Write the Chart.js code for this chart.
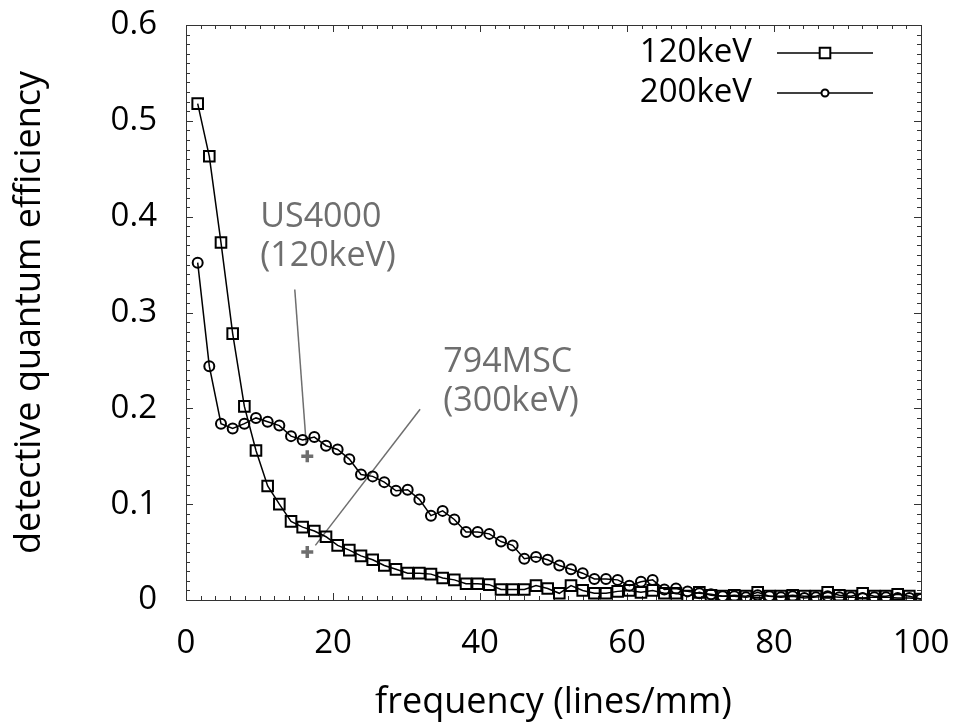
<!DOCTYPE html>
<html>
<head>
<meta charset="utf-8">
<script src="https://cdn.jsdelivr.net/npm/chart.js@4.4.1/dist/chart.umd.min.js"></script>
<style>
  html, body { margin: 0; padding: 0; background: #fff; }
  canvas { display: block; }
</style>
</head>
<body>
<canvas id="dqe-chart" width="953" height="725"></canvas>
<script>
// spatial frequency (lines/mm) of each sample
const freq = [1.59, 3.17, 4.76, 6.35, 7.94, 9.52, 11.11, 12.70, 14.29, 15.87,
  17.46, 19.05, 20.63, 22.22, 23.81, 25.40, 26.98, 28.57, 30.16, 31.75,
  33.33, 34.92, 36.51, 38.10, 39.68, 41.27, 42.86, 44.44, 46.03, 47.62,
  49.21, 50.79, 52.38, 53.97, 55.56, 57.14, 58.73, 60.32, 61.90, 63.49,
  65.08, 66.67, 68.25, 69.84, 71.43, 73.02, 74.60, 76.19, 77.78, 79.37,
  80.95, 82.54, 84.13, 85.71, 87.30, 88.89, 90.48, 92.06, 93.65, 95.24,
  96.83, 98.41, 100];

const dqe120 = [0.518, 0.463, 0.373, 0.278, 0.202, 0.156, 0.119, 0.100, 0.082, 0.076,
  0.072, 0.066, 0.057, 0.052, 0.046, 0.042, 0.036, 0.032, 0.028, 0.028,
  0.027, 0.023, 0.021, 0.017, 0.017, 0.016, 0.011, 0.011, 0.011, 0.015,
  0.012, 0.007, 0.015, 0.010, 0.007, 0.007, 0.009, 0.010, 0.008, 0.010,
  0.007, 0.007, 0.004, 0.008, 0.005, 0.004, 0.005, 0.004, 0.008, 0.004,
  0.004, 0.005, 0.004, 0.004, 0.008, 0.005, 0.004, 0.007, 0.004, 0.004,
  0.006, 0.004, 0.001];

const dqe200 = [0.352, 0.244, 0.184, 0.179, 0.184, 0.190, 0.186, 0.182, 0.171, 0.167,
  0.170, 0.161, 0.157, 0.147, 0.131, 0.129, 0.123, 0.114, 0.115, 0.105,
  0.088, 0.093, 0.084, 0.071, 0.071, 0.069, 0.061, 0.057, 0.043, 0.045,
  0.042, 0.036, 0.032, 0.028, 0.022, 0.022, 0.021, 0.015, 0.019, 0.021,
  0.011, 0.012, 0.009, 0.007, 0.006, 0.004, 0.004, 0.003, 0.005, 0.004,
  0.003, 0.004, 0.002, 0.003, 0.004, 0.003, 0.003, 0.002, 0.003, 0.003,
  0.002, 0.002, 0.001];

const seriesNames = ['120keV', '200keV'];

// single reference measurements of other cameras
const refNames = [['US4000', '(120keV)'], ['794MSC', '(300keV)']];
const refFreq = [16.5, 16.5];
const refDqe = [0.15, 0.05];

const FONT = "'Open Sans', 'Noto Sans', sans-serif";
const GREY = '#6e6e6e';

// where the labels and their pointer lines sit, in data units
const notes = [
  {text: {x: 10.1, y: 0.389}, from: {x: 14.8, y: 0.324}, to: {x: 16.35, y: 0.163}},
  {text: {x: 35.0, y: 0.238}, from: {x: 31.85, y: 0.199}, to: {x: 17.6, y: 0.057}}
];

const pts = ys => freq.map((f, i) => ({x: f, y: ys[i]}));

const framePlugin = {
  id: 'frame',
  beforeDatasetsDraw(chart) {
    const {ctx, chartArea: a, scales: {x, y}} = chart;
    ctx.save();
    ctx.strokeStyle = '#333';
    ctx.lineWidth = 1;
    ctx.beginPath();
    for (let v = 0; v <= 100; v += 2) {
      const px = Math.round(x.getPixelForValue(v)) + 0.5;
      const len = v % 20 === 0 ? 7 : 4;
      ctx.moveTo(px, a.bottom); ctx.lineTo(px, a.bottom - len);
      ctx.moveTo(px, a.top); ctx.lineTo(px, a.top + len);
    }
    for (let k = 0; k <= 60; k++) {
      const py = Math.round(y.getPixelForValue(k / 100)) + 0.5;
      const len = k % 10 === 0 ? 7 : 4;
      ctx.moveTo(a.left, py); ctx.lineTo(a.left + len, py);
      ctx.moveTo(a.right, py); ctx.lineTo(a.right - len, py);
    }
    ctx.stroke();
    ctx.strokeRect(Math.round(a.left) + 0.5, Math.round(a.top) + 0.5,
      Math.round(a.right - a.left), Math.round(a.bottom - a.top));
    ctx.restore();
  }
};

const notesPlugin = {
  id: 'notes',
  afterDatasetsDraw(chart) {
    const {ctx, scales: {x, y}} = chart;
    ctx.save();
    ctx.fillStyle = GREY;
    ctx.font = '34px ' + FONT;
    ctx.textAlign = 'left';
    ctx.textBaseline = 'alphabetic';
    notes.forEach((n, i) => {
      const px = x.getPixelForValue(n.text.x);
      const py = y.getPixelForValue(n.text.y);
      refNames[i].forEach((line, j) => ctx.fillText(line, px, py + j * 39));
    });
    ctx.restore();
  }
};

const legendPlugin = {
  id: 'sideLegend',
  afterDraw(chart) {
    const {ctx, chartArea: a} = chart;
    ctx.save();
    ctx.font = '33px ' + FONT;
    ctx.textAlign = 'right';
    ctx.textBaseline = 'middle';
    seriesNames.forEach((name, i) => {
      const ds = chart.data.datasets[i];
      const yy = a.top + 28 + i * 40;
      ctx.fillStyle = '#000';
      ctx.fillText(name, a.right - 169, yy);
      ctx.strokeStyle = '#000';
      ctx.lineWidth = 1.5;
      ctx.beginPath();
      ctx.moveTo(a.right - 144, yy);
      ctx.lineTo(a.right - 48, yy);
      ctx.stroke();
      ctx.lineWidth = 2;
      ctx.fillStyle = '#fff';
      Chart.helpers.drawPoint(ctx, {
        pointStyle: ds.pointStyle,
        radius: i === 0 ? 7.5 : 3.5,
        borderWidth: 2,
        rotation: 0
      }, a.right - 96, yy);
    });
    ctx.restore();
  }
};

// keep the plot frame where the reference has it: no automatic label overhang padding
function fixBox(size, key) {
  return scale => {
    scale[key] = size;
    scale.paddingTop = 0;
    scale.paddingBottom = 0;
    scale.paddingLeft = 0;
    scale.paddingRight = 0;
  };
}

const seriesStyle = {
  borderColor: '#000',
  borderWidth: 1.5,
  pointBorderColor: '#000',
  pointBackgroundColor: 'rgba(0,0,0,0)',
  pointBorderWidth: 2,
  tension: 0
};

new Chart(document.getElementById('dqe-chart').getContext('2d'), {
  type: 'line',
  data: {
    datasets: [
      Object.assign({label: seriesNames[0], data: pts(dqe120), pointStyle: 'rect', pointRadius: 7.5}, seriesStyle),
      Object.assign({label: seriesNames[1], data: pts(dqe200), pointStyle: 'circle', pointRadius: 5}, seriesStyle),
      ...notes.map(n => ({
        data: [n.from, n.to],
        borderColor: GREY,
        borderWidth: 1.5,
        pointRadius: 0
      })),
      {
        data: refFreq.map((f, i) => ({x: f, y: refDqe[i]})),
        showLine: false,
        pointStyle: 'cross',
        pointRadius: 6,
        pointBorderWidth: 3.5,
        pointBorderColor: GREY
      }
    ]
  },
  options: {
    responsive: false,
    animation: false,
    events: [],
    layout: {padding: {left: 0, top: 25, right: 32, bottom: 0}},
    plugins: {legend: {display: false}, tooltip: {enabled: false}},
    scales: {
      x: {
        type: 'linear',
        min: 0,
        max: 100,
        grid: {display: false, drawTicks: false},
        border: {display: false},
        ticks: {stepSize: 20, padding: 24, color: '#000', font: {family: FONT, size: 33}},
        title: {display: true, text: 'frequency (lines/mm)', color: '#000',
          font: {family: FONT, size: 36}, padding: {top: 0, bottom: 1}},
        afterFit: fixBox(125, 'height')
      },
      y: {
        min: 0,
        max: 0.6,
        grid: {display: false, drawTicks: false},
        border: {display: false},
        ticks: {
          stepSize: 0.1, padding: 29, color: '#000', font: {family: FONT, size: 33},
          callback: v => (Math.abs(v) < 1e-9 ? '0' : v.toFixed(1))
        },
        title: {display: true, text: 'detective quantum efficiency', color: '#000',
          font: {family: FONT, size: 36}, padding: {top: 8, bottom: 0}},
        afterFit: fixBox(186, 'width')
      }
    }
  },
  plugins: [framePlugin, notesPlugin, legendPlugin]
});
</script>
</body>
</html>
